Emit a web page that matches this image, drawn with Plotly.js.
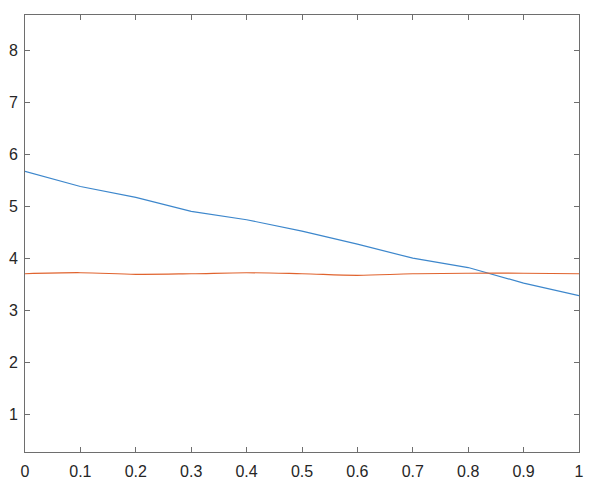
<!DOCTYPE html>
<html>
<head>
<meta charset="utf-8">
<script src="https://cdn.plot.ly/plotly-3.0.1.min.js"></script>
<style>html,body{margin:0;padding:0;background:#fff;}#chart{width:594px;height:493px;}</style>
</head>
<body>
<div id="chart"></div>
<script>
const xValues = [0, 0.1, 0.2, 0.3, 0.4, 0.5, 0.6, 0.7, 0.8, 0.9, 1.0];
const blueSeries = [5.67, 5.38, 5.17, 4.90, 4.74, 4.52, 4.27, 4.00, 3.82, 3.52, 3.28];
const orangeSeries = [3.70, 3.72, 3.69, 3.70, 3.72, 3.70, 3.67, 3.70, 3.71, 3.71, 3.70];
const xTicks = [0, 0.1, 0.2, 0.3, 0.4, 0.5, 0.6, 0.7, 0.8, 0.9, 1];
const xTickLabels = ['0', '0.1', '0.2', '0.3', '0.4', '0.5', '0.6', '0.7', '0.8', '0.9', '1'];
const yTicks = [1, 2, 3, 4, 5, 6, 7, 8];
const yTickLabels = ['1', '2', '3', '4', '5', '6', '7', '8'];

const traces = [
  {x: xValues, y: blueSeries, type: 'scatter', mode: 'lines', line: {color: '#3d87cc', width: 1.2}, showlegend: false},
  {x: xValues, y: orangeSeries, type: 'scatter', mode: 'lines', line: {color: '#e0632e', width: 1.2, shape: 'spline'}, showlegend: false}
];

const axisCommon = {
  showgrid: false, zeroline: false, showline: true, mirror: 'ticks',
  linecolor: '#6e6e6e', linewidth: 1, ticks: 'inside', ticklen: 5, tickwidth: 1, tickcolor: '#6e6e6e',
  tickfont: {family: 'Liberation Sans, Arial, sans-serif', size: 16, color: '#262626'}
};

const layout = {
  width: 594, height: 493,
  margin: {l: 25, r: 15, t: 15, b: 41},
  paper_bgcolor: '#ffffff', plot_bgcolor: '#ffffff',
  xaxis: Object.assign({}, axisCommon, {range: [0, 1], tickvals: xTicks, ticktext: xTickLabels, ticklabelstandoff: 5}),
  yaxis: Object.assign({}, axisCommon, {range: [0.27, 8.68], tickvals: yTicks, ticktext: yTickLabels, ticklabelstandoff: 3})
};

Plotly.newPlot('chart', traces, layout, {staticPlot: true, displayModeBar: false});
</script>
</body>
</html>
